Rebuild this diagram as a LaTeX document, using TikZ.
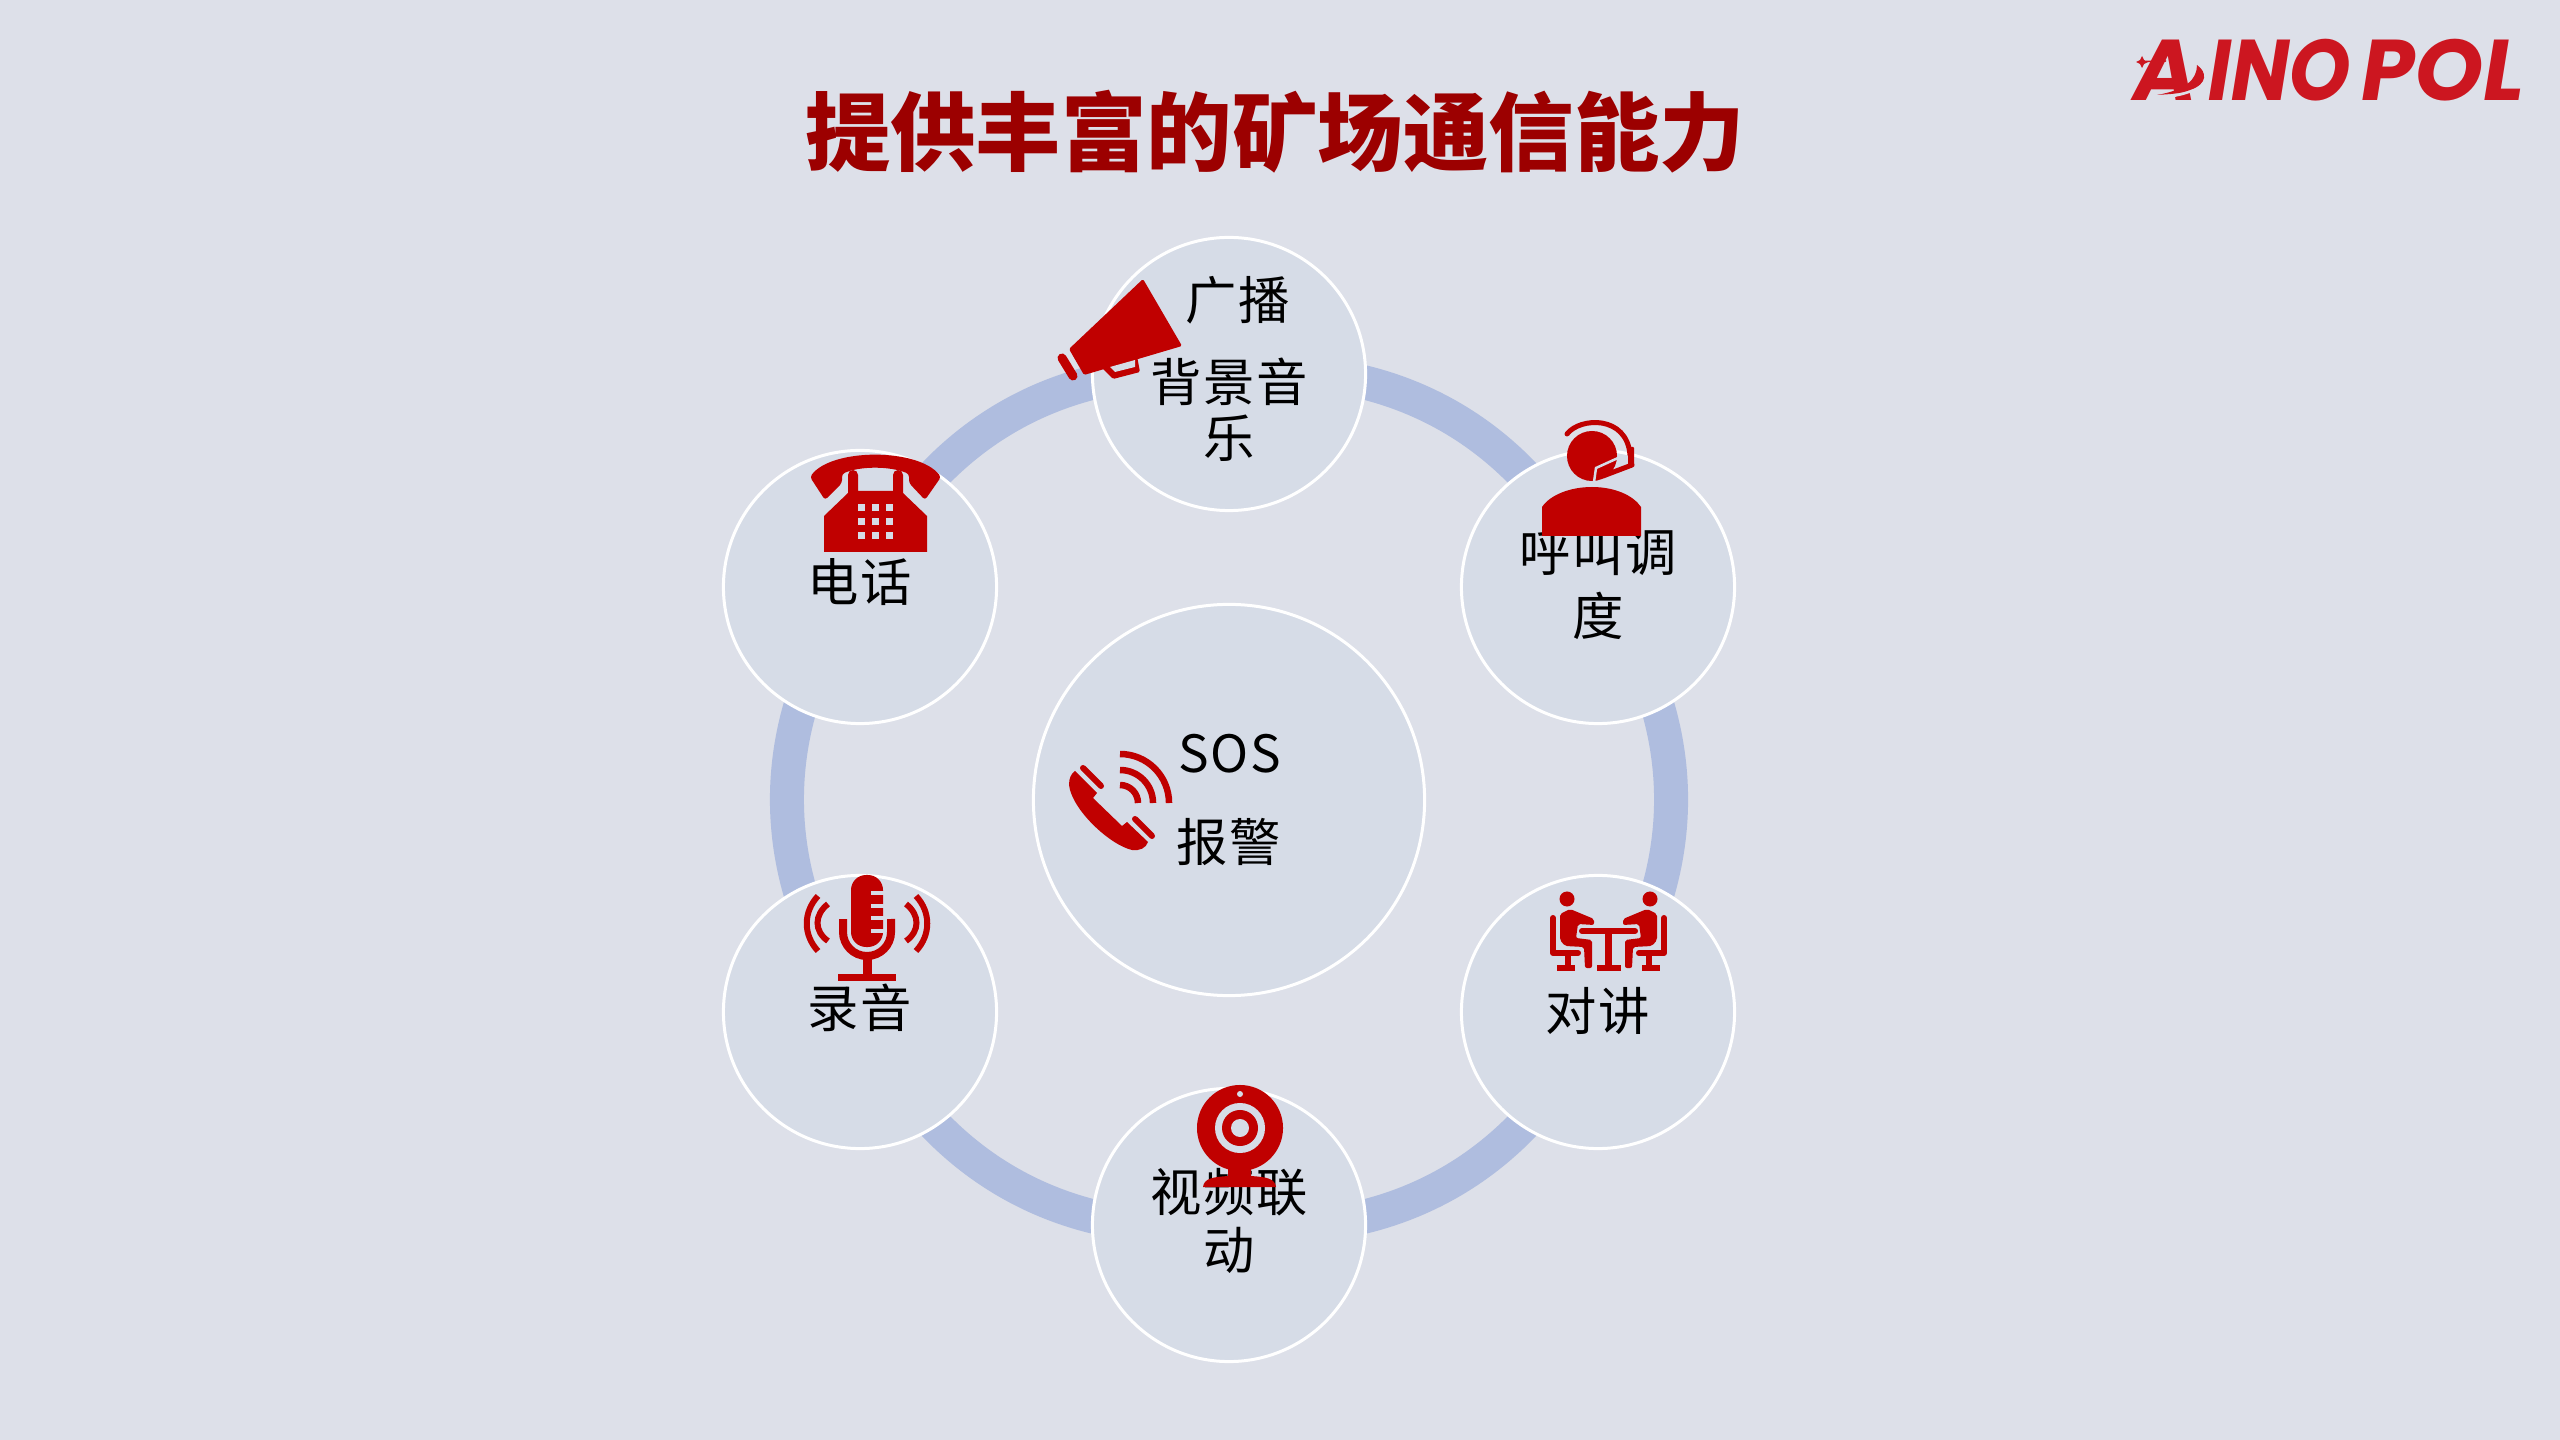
\documentclass[tikz,border=0pt]{standalone}
\usepackage{fontspec}
\setmainfont{Noto Sans CJK SC}
\newfontfamily\titlefont{Noto Sans CJK SC}[Scale=1.0]
\newfontfamily\labelfont{Noto Sans CJK SC}[LetterSpace=3]
\newfontfamily\logofont{Poppins}[FakeSlant=0.16]
\newfontfamily\logonarrow{Poppins}[FakeSlant=0.16, FakeStretch=0.9]
\usetikzlibrary{
    backgrounds,
    shapes.geometric
}
\definecolor{slidebg}{HTML}{DDE0E9}
\definecolor{circlefill}{HTML}{D6DCE7}
\definecolor{ringblue}{HTML}{AFBDDF}
\definecolor{iconred}{HTML}{C00000}
\definecolor{titlered}{HTML}{9C0000}
\definecolor{logored}{HTML}{CC1620}
\tikzset{
    % Node styles
    hub circle/.style={
        circle,
        draw=white,
        fill=circlefill,
        line width=0.03cm,
        minimum size=2.73cm,
        inner sep=0pt
    },
    core circle/.style={
        hub circle,
        minimum size=3.91cm
    },
    label text/.style={
        font=\labelfont\fontsize{14.6}{18}\selectfont,
        text=black,
        align=center,
        inner sep=0pt
    },
    logo text/.style={
        font=\logofont\bfseries\fontsize{24.5}{26}\selectfont,
        text=logored,
        inner sep=0pt
    },
    % Connector style
    ring line/.style={
        ringblue,
        line width=0.34cm,
        bend left=36
    },
    % Icon styles
    icon/.style={
        fill=iconred,
        draw=none
    },
    icon line/.style={
        draw=iconred,
        line width=0.06cm
    },
    icon hole/.style={
        fill=circlefill,
        draw=none
    }
}
\begin{document}
\begin{tikzpicture}[x=0.01cm, y=-0.01cm]
        % Background
        \begin{scope}[on background layer]
            \fill[slidebg] (0,0) rectangle (2560,1440);
        \end{scope}

        % Title and logo
        \node[font=\titlefont\bfseries\fontsize{24.3}{28}\selectfont, text=titlered, inner sep=0pt] (title) at (1275,132) {提供丰富的矿场通信能力};
        \node[logo text] (logoa) at (2161,70) {A};
        \node[logo text, font=\logonarrow\bfseries\fontsize{24.5}{26}\selectfont, anchor=west] (logoino) at (2204,70) {INO};
        \node[logo text, anchor=west] (logopol) at (2357,70) {POL};

        % Nodes
        \node[core circle] (sos) at (1229,800) {};
        \node[hub circle] (broadcast) at (1229,374) {};
        \node[hub circle] (dispatch) at (1598,587) {};
        \node[hub circle] (intercom) at (1598,1012) {};
        \node[hub circle] (video) at (1229,1225) {};
        \node[hub circle] (record) at (860,1012) {};
        \node[hub circle] (phone) at (860,587) {};

        % Edges
        \begin{scope}[on background layer]
            \draw[ring line] (broadcast.center) to (dispatch.center);
            \draw[ring line] (dispatch.center) to (intercom.center);
            \draw[ring line] (intercom.center) to (video.center);
            \draw[ring line] (video.center) to (record.center);
            \draw[ring line] (record.center) to (phone.center);
            \draw[ring line] (phone.center) to (broadcast.center);
        \end{scope}

        % Labels
        \node[label text] (sostext) at (1230,754) {SOS};
        \node[label text] (alarmtext) at (1229,842) {报警};
        \node[label text] (broadcasttext) at (1238,300) {广播};
        \node[label text] (musictext) at (1229,382) {背景音};
        \node[label text] (musictexttwo) at (1229,438) {乐};
        \node[label text] (dispatchtext) at (1598,552) {呼叫调};
        \node[label text] (dispatchtexttwo) at (1598,616) {度};
        \node[label text] (intercomtext) at (1598,1011) {对讲};
        \node[label text] (videotext) at (1229,1192) {视频联};
        \node[label text] (videotexttwo) at (1229,1250) {动};
        \node[label text] (recordtext) at (860,1008) {录音};
        \node[label text] (phonetext) at (860,582) {电话};

        % Logo details
        \fill[slidebg] (2158,96) .. controls (2185,92) and (2200,84) .. (2197,66) -- (2210,80) .. controls (2200,92) and (2180,98) .. (2150,100) -- cycle;
        \fill[logored] (2157,95) .. controls (2185,90) and (2197,80) .. (2197,65) .. controls (2207,72) and (2208,84) .. (2190,90) .. controls (2180,94) and (2170,94) .. (2157,95) -- cycle;
        \fill[logored] (2142,56) -- (2144,60) -- (2148,62) -- (2144,64) -- (2142,68) -- (2140,64) -- (2136,62) -- (2140,60) -- cycle;
        \draw[logored, line width=0.015cm] (2146,61.5) -- (2166,61);

        % Megaphone
        \fill[icon, rounded corners=0.015cm] (1143,279) -- (1182,346) -- (1084,375) -- (1069,349) -- cycle;
        \draw[iconred, line width=0.09cm, line cap=round] (1062,358) -- (1073,376);
        \fill[icon, rounded corners=0.015cm] (1102,368) -- (1113,379) -- (1140,372) -- (1137,356) -- cycle;
        \fill[icon hole] (1110,367) -- (1115,372) -- (1135,367) -- (1135,360) -- cycle;

        % Headset person
        \fill[icon] (1592,456) circle[radius=0.25cm];
        \fill[icon] (1542,536) -- (1542,507) .. controls (1550,495) and (1570,487) .. (1592,487) .. controls (1614,487) and (1633,495) .. (1641,507) -- (1641,536) -- cycle;
        \draw[iconred, line width=0.05cm, line cap=round] (1567,434) .. controls (1580,417) and (1627,415) .. (1630,455);
        \fill[icon, rounded corners=0.01cm] (1628,447) -- (1634,447) -- (1634,466) -- (1628,468) -- cycle;
        \draw[iconred, line width=0.05cm, line cap=round] (1632,465) -- (1603,476);
        \draw[circlefill, line width=0.025cm] (1618,458) -- (1596,468) -- (1594,482);

        % Telephone
        \fill[icon, rounded corners=0.03cm] (810,477) .. controls (832,448) and (918,448) .. (941,477) -- (925,500) -- (909,483) -- (909,474) .. controls (890,466) and (860,466) .. (842,474) -- (842,483) -- (825,500) -- cycle;
        \fill[icon] (824,552) -- (824,516) -- (848,493) -- (848,475) arc[start angle=180, end angle=0, radius=0.05cm] -- (858,491) -- (893,491) -- (893,475) arc[start angle=180, end angle=0, radius=0.05cm] -- (903,493) -- (927,516) -- (927,552) -- cycle;
        \foreach \kx in {858,872,886}
            \foreach \ky in {504,518,532}
                \fill[icon hole] (\kx,\ky) rectangle ++(7,7);

        % Handset and waves
        \fill[icon] (1075,771) -- (1097,793) -- (1093,798) -- (1122,826) -- (1127,822) -- (1148,842) .. controls (1146,848) and (1140,851) .. (1132,850) .. controls (1110,845) and (1072,810) .. (1069,785) .. controls (1069,778) and (1071,774) .. (1075,771) -- cycle;
        \draw[iconred, line width=0.06cm, line cap=round] (1083,768) -- (1101,786);
        \draw[iconred, line width=0.06cm, line cap=round] (1135,819) -- (1152,836);
        \draw[iconred, line width=0.065cm] (1120,754) arc[start angle=90, end angle=0, radius=0.49cm];
        \draw[iconred, line width=0.065cm] (1120,770) arc[start angle=90, end angle=0, radius=0.33cm];
        \draw[iconred, line width=0.065cm] (1120,785) arc[start angle=90, end angle=0, radius=0.18cm];

        % Microphone
        \fill[icon, rounded corners=0.15cm] (851,947) rectangle (883,875);
        \foreach \ty in {893,906,918,931}
            \draw[circlefill, line width=0.03cm] (871,\ty) -- (884,\ty);
        \draw[iconred, line width=0.08cm] (843,919) -- (843,932) arc[start angle=180, end angle=360, radius=0.24cm] -- (891,919);
        \fill[icon] (863,955) rectangle (872,975);
        \fill[icon] (838,974) rectangle (896,981);
        \draw[icon line] (818,896) .. controls (803,912) and (803,935) .. (818,951);
        \draw[icon line] (828,904) .. controls (814,915) and (814,931) .. (828,941);
        \draw[icon line] (916,896) .. controls (931,912) and (931,935) .. (916,951);
        \draw[icon line] (906,904) .. controls (920,915) and (920,931) .. (906,941);

        % Table and two people
        \foreach \m in {1,-1} {
            \begin{scope}[shift={(1608.5,0)}, xscale=\m, shift={(-1608.5,0)}]
                \fill[icon] (1567,899) circle[radius=0.075cm];
                \fill[icon, rounded corners=0.02cm] (1560,940) -- (1560,914) -- (1570,909) -- (1594,919) -- (1594,925) -- (1578,924) -- (1576,938) -- (1592,940) -- (1592,968) -- (1585,968) -- (1584,947) -- (1565,946) -- cycle;
                \draw[iconred, line width=0.06cm, line cap=round, line join=round] (1553,918) -- (1553,953) -- (1578,953);
                \fill[icon] (1565,954) rectangle (1571,966);
                \fill[icon] (1557,965) rectangle (1575,971);
            \end{scope}
        }
        \draw[iconred, line width=0.06cm, line cap=round] (1582,931) -- (1635,931);
        \fill[icon] (1605,931) rectangle (1612,966);
        \fill[icon] (1597,965) rectangle (1621,971);

        % Webcam
        \fill[icon] (1240,1128) circle[radius=0.43cm];
        \fill[icon hole] (1240,1128) circle[radius=0.25cm];
        \fill[icon] (1240,1128) circle[radius=0.18cm];
        \fill[icon hole] (1240,1128) circle[radius=0.09cm];
        \fill[icon hole] (1240,1094) circle[radius=0.03cm];
        \fill[icon] (1228,1165) -- (1251,1165) -- (1251,1176) .. controls (1265,1177) and (1275,1178) .. (1276,1187) -- (1203,1187) .. controls (1204,1178) and (1214,1177) .. (1228,1176) -- cycle;
    \end{tikzpicture}
\end{document}
